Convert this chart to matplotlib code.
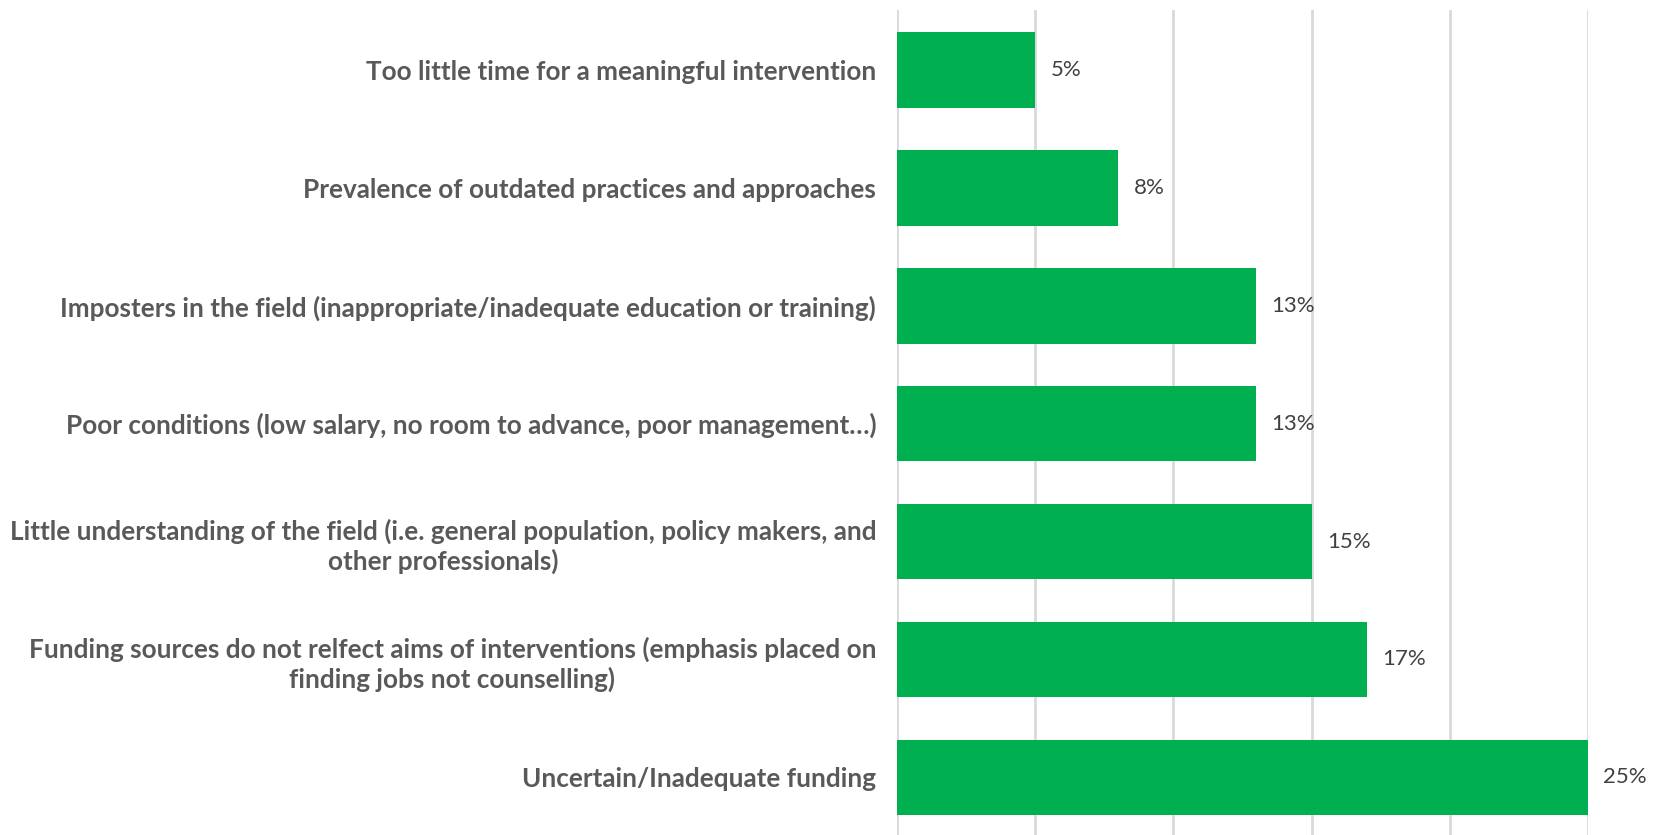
import matplotlib.pyplot as plt
from matplotlib.ticker import MultipleLocator

# survey data, listed bottom to top
labels = [
    "Uncertain/Inadequate funding",
    "Funding sources do not relfect aims of interventions (emphasis placed on\nfinding jobs not counselling)",
    "Little understanding of the field (i.e. general population, policy makers, and\nother professionals)",
    "Poor conditions (low salary, no room to advance, poor management…)",
    "Imposters in the field (inappropriate/inadequate education or training)",
    "Prevalence of outdated practices and approaches",
    "Too little time for a meaningful intervention",
]
values = [25, 17, 15, 13, 13, 8, 5]

bar_color = "#00B050"
grid_color = "#D9D9D9"

plt.rcParams['font.family'] = ['Lato', 'DejaVu Sans']

fig = plt.figure(figsize=(16.61, 8.35), dpi=100)
ax = fig.add_axes([897 / 1661, 0.0, (1588 - 897) / 1661, 825 / 835])

ypos = list(range(len(labels)))
bars = ax.barh(ypos, values, height=0.64, color=bar_color, zorder=3)

ax.set_xlim(0, 25)
ax.set_ylim(-0.49, 6.51)
ax.xaxis.set_major_locator(MultipleLocator(5))
ax.set_xticklabels([])
ax.tick_params(axis='x', length=0)
ax.grid(axis='x', color=grid_color, linewidth=2, zorder=0)
ax.grid(axis='y', visible=False)
for s in ax.spines.values():
    s.set_visible(False)

ax.set_yticks(ypos)
ax.set_yticklabels(labels, fontsize=18.8, fontweight='bold', color='#595959')
ax.tick_params(axis='y', length=0, pad=15)
for t in ax.get_yticklabels():
    t.set_multialignment('center')
    t.set_linespacing(1.25)

ax.bar_label(bars, labels=[f"{v}%" for v in values], padding=11,
             fontsize=16, color='#404040')

fig.savefig("out.png", dpi=100)
